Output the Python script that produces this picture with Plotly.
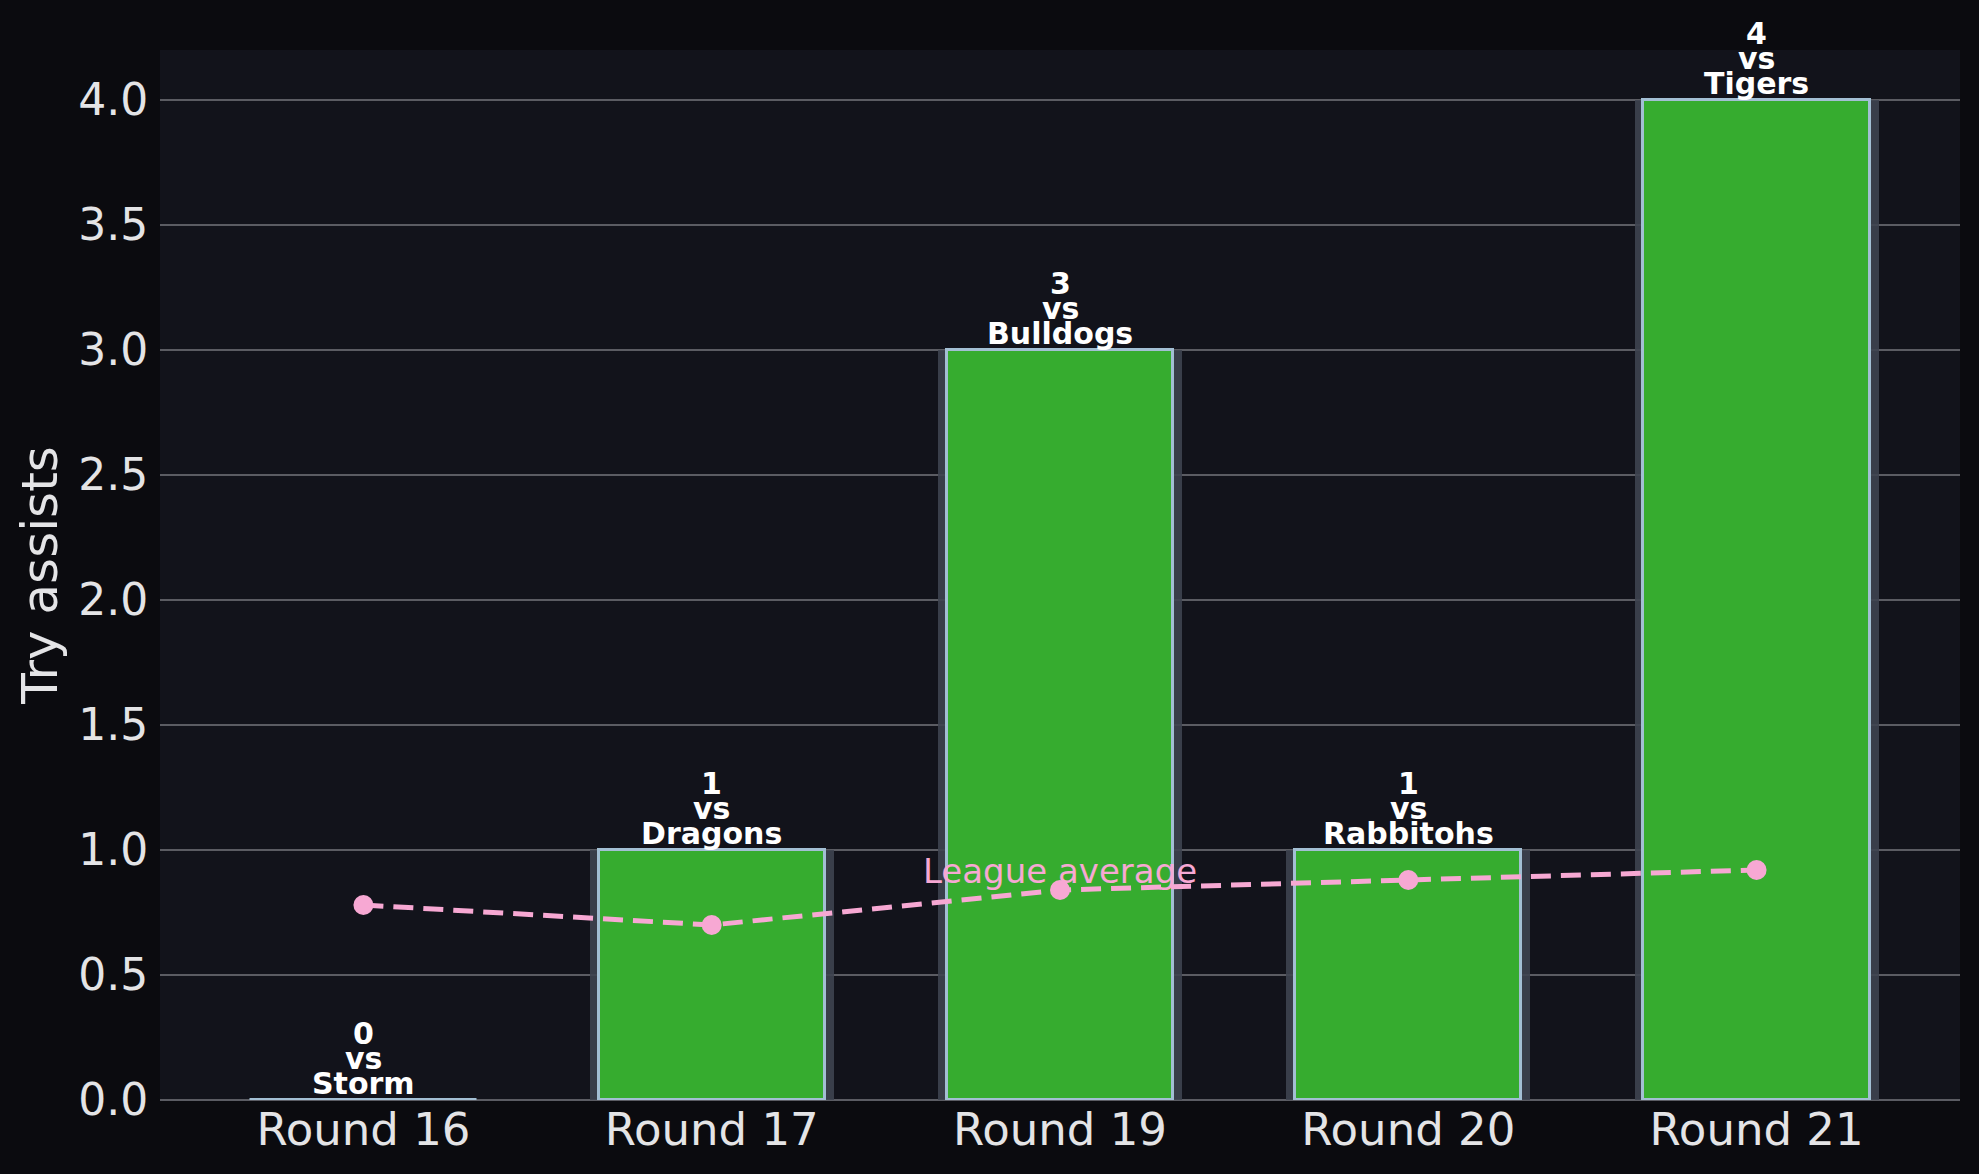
import plotly.graph_objects as go

# ===========[ Data ]=========== #
rounds = ["Round 16", "Round 17", "Round 19", "Round 20", "Round 21"]
try_assists = [0, 1, 3, 1, 4]
opponents = ["Storm", "Dragons", "Bulldogs", "Rabbitohs", "Tigers"]
league_avg = [0.78, 0.70, 0.84, 0.88, 0.92]
y_ticks = [0.0, 0.5, 1.0, 1.5, 2.0, 2.5, 3.0, 3.5, 4.0]

# Colors
fig_bg = "#0b0b0f"
plot_bg = "#12131b"
green = "#36ac2f"
edge = "#a3bfd4"
shadow = "rgba(62,68,80,0.9)"
pink = "#f7a8d3"
grid = "#5b5c63"
text_col = "#e4e4e6"

fig = go.Figure()

# soft halo behind each bar
fig.add_trace(go.Bar(x=rounds, y=try_assists, width=0.70, marker_color=shadow,
	marker_line_width=0, hoverinfo="skip", showlegend=False))

# main bars
fig.add_trace(go.Bar(x=rounds, y=try_assists, width=0.65, marker_color=green,
	marker_line_color=edge, marker_line_width=3, showlegend=False,
	hovertemplate="%{x}<br>Try assists: %{y}<extra></extra>"))

# league average line
fig.add_trace(go.Scatter(x=rounds, y=league_avg, mode="lines+markers",
	line=dict(color=pink, width=5, dash="20px,10px"),
	marker=dict(color=pink, size=20), showlegend=False,
	hovertemplate="%{x}<br>League average: %{y:.2f}<extra></extra>"))

# stacked labels above each bar: value / vs / opponent
for r, v, opp in zip(rounds, try_assists, opponents):
	for k, line in enumerate([opp, "vs", str(v)]):
		fig.add_annotation(x=r, y=v, text=f"<b>{line}</b>", showarrow=False,
			yanchor="middle", yshift=17 + 25 * k,
			font=dict(family="DejaVu Sans", size=30, color="white"))

fig.add_annotation(x=rounds[2], y=league_avg[2], text="League average", showarrow=False,
	yanchor="middle", yshift=19, font=dict(family="DejaVu Sans", size=34, color=pink))

fig.update_layout(
	width=1979, height=1174, barmode="overlay", bargap=0,
	paper_bgcolor=fig_bg, plot_bgcolor=plot_bg,
	margin=dict(l=160, r=19, t=50, b=74),
	font=dict(family="DejaVu Sans", color=text_col),
)
fig.update_xaxes(range=[-0.584, 4.584], showgrid=False, zeroline=False, automargin=False,
	ticks="", ticklabelstandoff=-1,
	tickfont=dict(size=45, color=text_col), showline=False)
fig.update_yaxes(range=[0, 4.2], tickvals=y_ticks, ticktext=[f"{t:.1f}" for t in y_ticks],
	showgrid=True, gridcolor=grid, gridwidth=2, automargin=False,
	zeroline=True, zerolinecolor=grid, zerolinewidth=2,
	ticks="outside", ticklen=2, tickcolor="rgba(0,0,0,0)",
	tickfont=dict(size=44, color=text_col),
	title=dict(text="Try assists", font=dict(size=50, color=text_col), standoff=4))

# page body margin would shift the figure off the window edge
fig.write_html("out.html", config={"displayModeBar": False},
	post_script="document.body.style.margin='0';")
